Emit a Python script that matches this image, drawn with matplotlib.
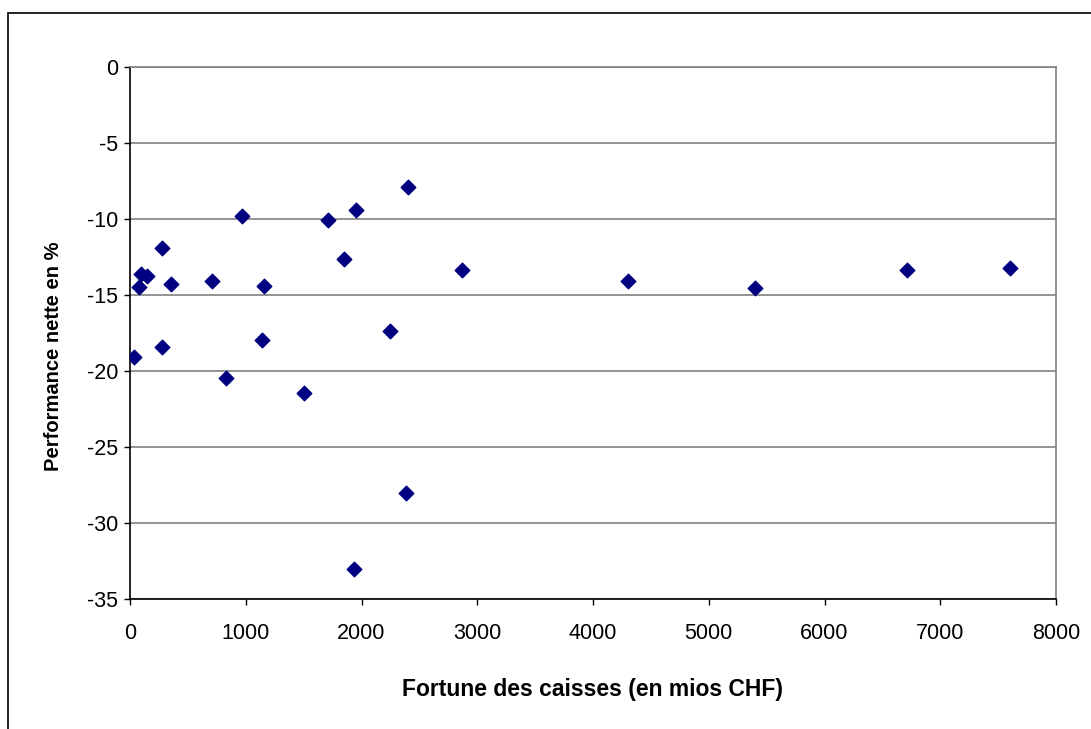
import matplotlib
matplotlib.use('Agg')
import matplotlib.pyplot as plt
from matplotlib.patches import Rectangle

plt.rcParams['font.family'] = ['Liberation Sans', 'DejaVu Sans']
plt.rcParams['axes.unicode_minus'] = False

# fortune (mios CHF) vs performance nette (%)
fortune = [35, 78, 92, 144, 279, 280, 351, 710, 828, 970, 1141, 1159, 1504,
           1711, 1849, 1935, 1956, 2243, 2381, 2401, 2867, 4300, 5401, 6715, 7599]
perf = [-19.1, -14.5, -13.6, -13.75, -18.45, -11.9, -14.25, -14.1, -20.45, -9.8,
        -17.95, -14.4, -21.45, -10.05, -12.65, -33.05, -9.4, -17.4, -28.05, -7.9,
        -13.35, -14.1, -14.55, -13.35, -13.2]

fig = plt.figure(figsize=(10.91, 7.29), dpi=100)
ax = fig.add_axes([130/1091, 1-599/729, (1056-130)/1091, (599-67)/729])

ax.scatter(fortune, perf, marker='D', s=55, color='#000080', zorder=3)

ax.set_xlim(0, 8000)
ax.set_ylim(-35, 0)
ax.set_xticks(range(0, 8001, 1000))
ax.set_yticks(range(-35, 1, 5))
ax.yaxis.grid(True, color='#808080', linewidth=1.2)
ax.set_axisbelow(True)

for s in ['top', 'right']:
    ax.spines[s].set_color('#808080')
    ax.spines[s].set_linewidth(1.2)
for s in ['left', 'bottom']:
    ax.spines[s].set_color('black')
    ax.spines[s].set_linewidth(1.2)

ax.tick_params(direction='out', length=4.5, width=1, labelsize=15.5, pad=4)
ax.tick_params(axis='x', pad=13)

ax.set_xlabel('Fortune des caisses (en mios CHF)', fontsize=16.5, fontweight='bold', labelpad=24)
ax.set_ylabel('Performance nette en %', fontsize=14.5, fontweight='bold')
ax.yaxis.set_label_coords(-0.072, 0.457)

fig.add_artist(Rectangle((8/1091, -0.1), 1.2, (729-13)/729 + 0.1, fill=False,
                         edgecolor='black', linewidth=1.2, transform=fig.transFigure))

fig.savefig('out.png', dpi=100)
